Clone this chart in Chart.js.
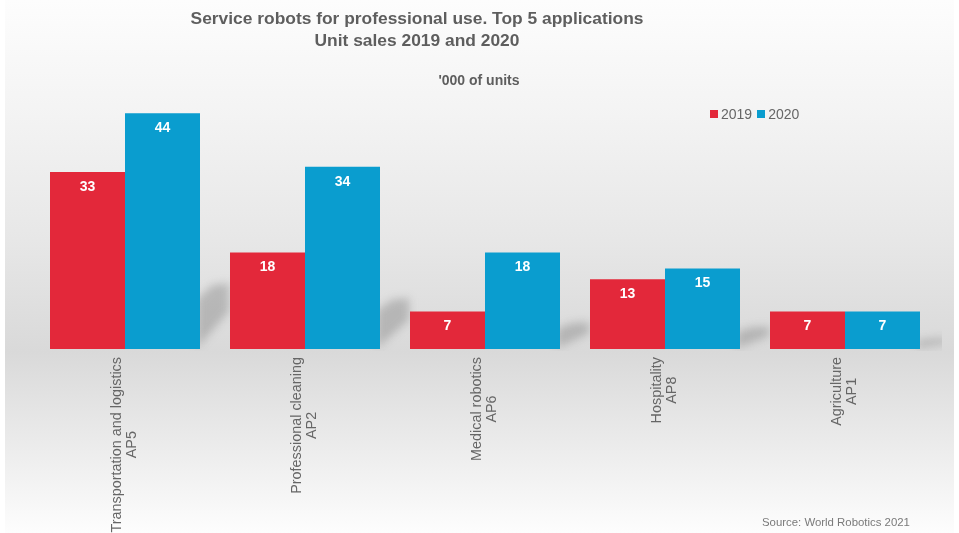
<!DOCTYPE html>
<html>
<head>
<meta charset="utf-8">
<script src="https://cdn.jsdelivr.net/npm/chart.js@4/dist/chart.umd.min.js"></script>
<style>
  html, body { margin: 0; padding: 0; background: #ffffff; }
  #wrap { position: relative; width: 959px; height: 533px; overflow: hidden; font-family: "Liberation Sans", Arial, sans-serif; }
  canvas { position: absolute; left: 0; top: 0; }
  .t { position: absolute; white-space: nowrap; }
  #title { left: 0; width: 834px; top: 7px; text-align: center; font-weight: bold; font-size: 17.4px; line-height: 22px; color: #5e5e5e; }
  #unit { left: 0; width: 958px; top: 72px; text-align: center; font-weight: bold; font-size: 14px; color: #5e5e5e; }
  #legend { left: 710px; top: 106px; font-size: 14px; color: #666666; display: flex; align-items: center; }
  #legend span.sw { display: inline-block; width: 8px; height: 8px; margin-right: 3px; }
  #legend span.lb { margin-right: 5px; }
  #source { left: 762px; top: 516px; font-size: 11.4px; color: #7a7a7a; }
</style>
</head>
<body>
<div id="wrap">
  <canvas id="c" width="959" height="533"></canvas>
  <div class="t" id="title">Service robots for professional use. Top 5 applications<br>Unit sales 2019 and 2020</div>
  <div class="t" id="unit">'000 of units</div>
  <div class="t" id="legend"></div>
  <div class="t" id="source">Source: World Robotics 2021</div>
</div>
<script>
// ---- data ----
const categories = [
  ["Transportation and logistics", "AP5"],
  ["Professional cleaning", "AP2"],
  ["Medical robotics", "AP6"],
  ["Hospitality", "AP8"],
  ["Agriculture", "AP1"]
];
const seriesNames = ["2019", "2020"];
const sales2019 = [33, 18, 7, 13, 7];
const sales2020 = [44, 34, 18, 15, 7];
const seriesColors = ["#e3283a", "#0a9dcf"];

// ---- legend (HTML) ----
const legendEl = document.getElementById('legend');
seriesNames.forEach((n, i) => {
  const sw = document.createElement('span'); sw.className = 'sw'; sw.style.background = seriesColors[i];
  const lb = document.createElement('span'); lb.className = 'lb'; lb.textContent = n;
  legendEl.appendChild(sw); legendEl.appendChild(lb);
});

const bgPlugin = {
  id: 'bg',
  beforeDraw(chart) {
    const ctx = chart.ctx;
    ctx.save();
    ctx.fillStyle = '#ffffff';
    ctx.fillRect(0, 0, chart.width, chart.height);
    const g = ctx.createLinearGradient(0, 0, 0, chart.height);
    g.addColorStop(0, '#fdfdfd');
    g.addColorStop(0.2, '#f4f4f4');
    g.addColorStop(0.45, '#e7e7e7');
    g.addColorStop(0.66, '#d9d9d9');
    g.addColorStop(0.85, '#ededed');
    g.addColorStop(1, '#fdfdfd');
    ctx.fillStyle = g;
    ctx.fillRect(5, 0, chart.width - 10, chart.height);
    ctx.restore();
  }
};

const shadowPlugin = {
  id: 'shadows',
  beforeDatasetsDraw(chart) {
    const ctx = chart.ctx;
    const meta = chart.getDatasetMeta(1);
    ctx.save();
    ctx.beginPath();
    ctx.rect(5, 0, chart.chartArea.right + 2, chart.chartArea.bottom + 2);
    ctx.clip();
    ctx.filter = 'blur(4px)';
    ctx.fillStyle = 'rgba(100,100,100,0.32)';
    meta.data.forEach(el => {
      const R = el.x + el.width / 2 - 3;
      const base = el.base;
      const H = base - el.y;
      ctx.beginPath();
      ctx.moveTo(R, base - 1);
      ctx.lineTo(R, base - 0.21 * H);
      ctx.lineTo(R + 15, base - 0.27 * H);
      ctx.lineTo(R + 32, base - 0.28 * H);
      ctx.lineTo(R + 32, base - 0.16 * H);
      ctx.closePath();
      ctx.fill();
    });
    ctx.restore();
  }
};

const labelPlugin = {
  id: 'labels',
  afterDatasetsDraw(chart) {
    const ctx = chart.ctx;
    ctx.save();
    // value labels
    ctx.fillStyle = '#ffffff';
    ctx.font = 'bold 14px "Liberation Sans", Arial, sans-serif';
    ctx.textAlign = 'center';
    ctx.textBaseline = 'middle';
    chart.data.datasets.forEach((ds, di) => {
      chart.getDatasetMeta(di).data.forEach((el, i) => {
        ctx.fillText(String(ds.data[i]), el.x, el.y + 15);
      });
    });
    // category labels, rotated, lines centered
    const xs = chart.scales.x;
    const yBase = chart.scales.y.getPixelForValue(0);
    ctx.fillStyle = '#666666';
    ctx.font = '14.4px "Liberation Sans", Arial, sans-serif';
    categories.forEach((lines, i) => {
      const x = xs.getPixelForValue(i);
      const maxW = Math.max(...lines.map(l => ctx.measureText(l).width));
      ctx.save();
      ctx.translate(x, yBase + 8);
      ctx.rotate(-Math.PI / 2);
      const lh = 15;
      lines.forEach((l, k) => {
        const off = (k - (lines.length - 1) / 2) * lh;
        ctx.fillText(l, -maxW / 2, off);
      });
      ctx.restore();
    });
    ctx.restore();
  }
};

new Chart(document.getElementById('c'), {
  type: 'bar',
  data: {
    labels: categories,
    datasets: [
      { label: seriesNames[0], data: sales2019, backgroundColor: seriesColors[0], borderWidth: 0, barPercentage: 1, categoryPercentage: 150 / 180 },
      { label: seriesNames[1], data: sales2020, backgroundColor: seriesColors[1], borderWidth: 0, barPercentage: 1, categoryPercentage: 150 / 180 }
    ]
  },
  options: {
    responsive: false,
    devicePixelRatio: 1,
    animation: false,
    layout: { padding: { left: 35, right: 24, top: 81, bottom: 184 } },
    scales: {
      x: { display: false },
      y: { display: false, min: 0, max: 50 }
    },
    plugins: {
      legend: { display: false },
      title: { display: false },
      tooltip: { enabled: false }
    }
  },
  plugins: [bgPlugin, shadowPlugin, labelPlugin]
});
</script>
</body>
</html>
